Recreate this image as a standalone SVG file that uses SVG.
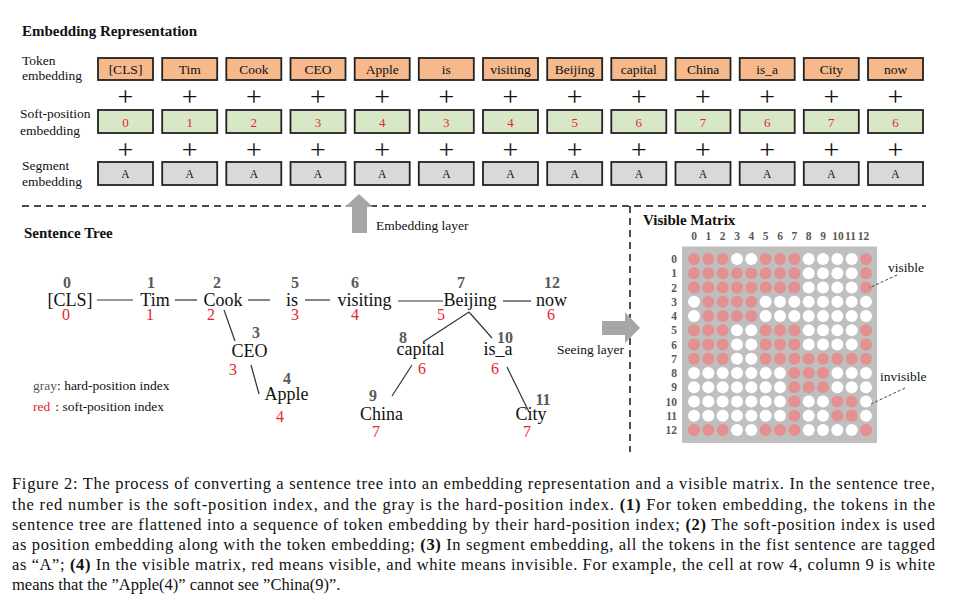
<svg xmlns="http://www.w3.org/2000/svg" width="963" height="604" viewBox="0 0 963 604">
<style>
text{font-family:"Liberation Serif","Times New Roman",serif;fill:#111}
.title{font-size:15px;font-weight:bold}
.lbl{font-size:13.5px}
.tok rect{fill:#F5B98C;stroke:#222;stroke-width:1.8}
.sp rect{fill:#D8E8C6;stroke:#222;stroke-width:1.8}
.seg rect{fill:#D9D9D9;stroke:#222;stroke-width:1.8}
.tt{font-size:13.5px;text-anchor:middle}
.st{font-size:13px;text-anchor:middle;fill:#E3262B}
.sg{font-size:11.5px;text-anchor:middle}
.plus{font-size:28px;text-anchor:middle}
.dash{stroke:#111;stroke-width:1.5;stroke-dasharray:7 5;fill:none}
.gi{font-size:16px;font-weight:bold;fill:#595959;text-anchor:middle}
.w{font-size:18px;text-anchor:middle}
.ri{font-size:16px;fill:#E3262B;text-anchor:middle}
.edge{stroke:#333;stroke-width:1.2;fill:none}
.arrow{fill:#A6A6A6}
.r{fill:#E59090}
.wc{fill:#FFFFFF}
.mi{font-size:11.5px;font-weight:bold;fill:#595959;text-anchor:middle}
.mr{font-size:11.5px;font-weight:bold;fill:#595959;text-anchor:end}
.cap{font-size:16.5px}
.lead{stroke:#444;stroke-width:1;stroke-dasharray:3 2;fill:none}
</style>

<text class="title" x="22" y="36">Embedding Representation</text>
<g id="row-labels">
<text class="lbl" x="22" y="65">Token</text>
<text class="lbl" x="22" y="80">embedding</text>
<text class="lbl" x="20" y="118">Soft-position</text>
<text class="lbl" x="20" y="135">embedding</text>
<text class="lbl" x="22" y="170">Segment</text>
<text class="lbl" x="22" y="186">embedding</text>
</g>

<g id="token-embedding" class="tok">
<g id="tok0"><rect x="98" y="58" width="55" height="22"/><text class="tt" x="125.5" y="74">[CLS]</text></g>
<g id="tok1"><rect x="162.2" y="58" width="55" height="22"/><text class="tt" x="189.7" y="74">Tim</text></g>
<g id="tok2"><rect x="226.3" y="58" width="55" height="22"/><text class="tt" x="253.8" y="74">Cook</text></g>
<g id="tok3"><rect x="290.5" y="58" width="55" height="22"/><text class="tt" x="318" y="74">CEO</text></g>
<g id="tok4"><rect x="354.7" y="58" width="55" height="22"/><text class="tt" x="382.2" y="74">Apple</text></g>
<g id="tok5"><rect x="418.8" y="58" width="55" height="22"/><text class="tt" x="446.3" y="74">is</text></g>
<g id="tok6"><rect x="483" y="58" width="55" height="22"/><text class="tt" x="510.5" y="74">visiting</text></g>
<g id="tok7"><rect x="547.2" y="58" width="55" height="22"/><text class="tt" x="574.7" y="74">Beijing</text></g>
<g id="tok8"><rect x="611.3" y="58" width="55" height="22"/><text class="tt" x="638.8" y="74">capital</text></g>
<g id="tok9"><rect x="675.5" y="58" width="55" height="22"/><text class="tt" x="703" y="74">China</text></g>
<g id="tok10"><rect x="739.7" y="58" width="55" height="22"/><text class="tt" x="767.2" y="74">is_a</text></g>
<g id="tok11"><rect x="803.8" y="58" width="55" height="22"/><text class="tt" x="831.3" y="74">City</text></g>
<g id="tok12"><rect x="868" y="58" width="55" height="22"/><text class="tt" x="895.5" y="74">now</text></g>
</g>

<g id="soft-position-embedding" class="sp">
<g id="sp0"><rect x="98" y="110" width="55" height="23"/><text class="st" x="125.5" y="126.5">0</text></g>
<g id="sp1"><rect x="162.2" y="110" width="55" height="23"/><text class="st" x="189.7" y="126.5">1</text></g>
<g id="sp2"><rect x="226.3" y="110" width="55" height="23"/><text class="st" x="253.8" y="126.5">2</text></g>
<g id="sp3"><rect x="290.5" y="110" width="55" height="23"/><text class="st" x="318" y="126.5">3</text></g>
<g id="sp4"><rect x="354.7" y="110" width="55" height="23"/><text class="st" x="382.2" y="126.5">4</text></g>
<g id="sp5"><rect x="418.8" y="110" width="55" height="23"/><text class="st" x="446.3" y="126.5">3</text></g>
<g id="sp6"><rect x="483" y="110" width="55" height="23"/><text class="st" x="510.5" y="126.5">4</text></g>
<g id="sp7"><rect x="547.2" y="110" width="55" height="23"/><text class="st" x="574.7" y="126.5">5</text></g>
<g id="sp8"><rect x="611.3" y="110" width="55" height="23"/><text class="st" x="638.8" y="126.5">6</text></g>
<g id="sp9"><rect x="675.5" y="110" width="55" height="23"/><text class="st" x="703" y="126.5">7</text></g>
<g id="sp10"><rect x="739.7" y="110" width="55" height="23"/><text class="st" x="767.2" y="126.5">6</text></g>
<g id="sp11"><rect x="803.8" y="110" width="55" height="23"/><text class="st" x="831.3" y="126.5">7</text></g>
<g id="sp12"><rect x="868" y="110" width="55" height="23"/><text class="st" x="895.5" y="126.5">6</text></g>
</g>

<g id="segment-embedding" class="seg">
<g id="seg0"><rect x="98" y="162" width="55" height="23"/><text class="sg" x="125.5" y="178">A</text></g>
<g id="seg1"><rect x="162.2" y="162" width="55" height="23"/><text class="sg" x="189.7" y="178">A</text></g>
<g id="seg2"><rect x="226.3" y="162" width="55" height="23"/><text class="sg" x="253.8" y="178">A</text></g>
<g id="seg3"><rect x="290.5" y="162" width="55" height="23"/><text class="sg" x="318" y="178">A</text></g>
<g id="seg4"><rect x="354.7" y="162" width="55" height="23"/><text class="sg" x="382.2" y="178">A</text></g>
<g id="seg5"><rect x="418.8" y="162" width="55" height="23"/><text class="sg" x="446.3" y="178">A</text></g>
<g id="seg6"><rect x="483" y="162" width="55" height="23"/><text class="sg" x="510.5" y="178">A</text></g>
<g id="seg7"><rect x="547.2" y="162" width="55" height="23"/><text class="sg" x="574.7" y="178">A</text></g>
<g id="seg8"><rect x="611.3" y="162" width="55" height="23"/><text class="sg" x="638.8" y="178">A</text></g>
<g id="seg9"><rect x="675.5" y="162" width="55" height="23"/><text class="sg" x="703" y="178">A</text></g>
<g id="seg10"><rect x="739.7" y="162" width="55" height="23"/><text class="sg" x="767.2" y="178">A</text></g>
<g id="seg11"><rect x="803.8" y="162" width="55" height="23"/><text class="sg" x="831.3" y="178">A</text></g>
<g id="seg12"><rect x="868" y="162" width="55" height="23"/><text class="sg" x="895.5" y="178">A</text></g>
</g>

<g id="plus-signs">
<text class="plus" x="125.5" y="106">+</text><text class="plus" x="189.7" y="106">+</text><text class="plus" x="253.8" y="106">+</text><text class="plus" x="318" y="106">+</text><text class="plus" x="382.2" y="106">+</text><text class="plus" x="446.3" y="106">+</text><text class="plus" x="510.5" y="106">+</text><text class="plus" x="574.7" y="106">+</text><text class="plus" x="638.8" y="106">+</text><text class="plus" x="703" y="106">+</text><text class="plus" x="767.2" y="106">+</text><text class="plus" x="831.3" y="106">+</text><text class="plus" x="895.5" y="106">+</text>
<text class="plus" x="125.5" y="159">+</text><text class="plus" x="189.7" y="159">+</text><text class="plus" x="253.8" y="159">+</text><text class="plus" x="318" y="159">+</text><text class="plus" x="382.2" y="159">+</text><text class="plus" x="446.3" y="159">+</text><text class="plus" x="510.5" y="159">+</text><text class="plus" x="574.7" y="159">+</text><text class="plus" x="638.8" y="159">+</text><text class="plus" x="703" y="159">+</text><text class="plus" x="767.2" y="159">+</text><text class="plus" x="831.3" y="159">+</text><text class="plus" x="895.5" y="159">+</text>
</g>

<g id="separators">
<line class="dash" x1="22" y1="206" x2="926" y2="206"/>
<line class="dash" x1="630" y1="206" x2="630" y2="452"/>
</g>

<g id="embedding-layer">
<polygon class="arrow" points="359,194 373,207 367,207 367,233 352,233 352,207 345,207"/>
<text class="lbl" x="376" y="230">Embedding layer</text>
</g>

<g id="seeing-layer">
<polygon class="arrow" points="602,321 625,321 625,312 640,328 625,343 625,335 602,335"/>
<text class="lbl" x="557" y="354">Seeing layer</text>
</g>

<text class="title" x="24" y="238">Sentence Tree</text>

<g id="connectors">
<line class="edge" x1="97" y1="300" x2="133" y2="300"/>
<line class="edge" x1="175" y1="300" x2="197" y2="300"/>
<line class="edge" x1="248" y1="300" x2="270" y2="300"/>
<line class="edge" x1="305" y1="300" x2="330" y2="300"/>
<line class="edge" x1="398" y1="301" x2="443" y2="301"/>
<line class="edge" x1="503" y1="301" x2="531" y2="301"/>
<line class="edge" x1="224" y1="310" x2="235" y2="341"/>
<line class="edge" x1="251" y1="365" x2="259" y2="394"/>
<line class="edge" x1="469" y1="312" x2="423" y2="342"/>
<line class="edge" x1="469" y1="312" x2="492" y2="338"/>
<line class="edge" x1="412" y1="365" x2="392" y2="396"/>
<line class="edge" x1="507" y1="367" x2="529" y2="412"/>
</g>

<g id="n0"><text class="gi" x="67" y="288">0</text><text class="w" x="70" y="306">[CLS]</text><text class="ri" x="66" y="320">0</text></g>
<g id="n1"><text class="gi" x="151" y="288">1</text><text class="w" x="155" y="306">Tim</text><text class="ri" x="150" y="320">1</text></g>
<g id="n2"><text class="gi" x="217" y="288">2</text><text class="w" x="223" y="306">Cook</text><text class="ri" x="211" y="320">2</text></g>
<g id="n5"><text class="gi" x="295" y="288">5</text><text class="w" x="292" y="306">is</text><text class="ri" x="295" y="320">3</text></g>
<g id="n6"><text class="gi" x="355" y="288">6</text><text class="w" x="364.5" y="306">visiting</text><text class="ri" x="355" y="320">4</text></g>
<g id="n7"><text class="gi" x="461" y="288">7</text><text class="w" x="470" y="306">Beijing</text><text class="ri" x="441" y="320">5</text></g>
<g id="n12"><text class="gi" x="552" y="288">12</text><text class="w" x="551.5" y="306">now</text><text class="ri" x="551" y="320">6</text></g>
<g id="n3"><text class="gi" x="256" y="338">3</text><text class="w" x="249.5" y="357">CEO</text><text class="ri" x="233" y="375">3</text></g>
<g id="n4"><text class="gi" x="287" y="384">4</text><text class="w" x="286.5" y="400">Apple</text><text class="ri" x="280" y="422">4</text></g>
<g id="n8"><text class="gi" x="403" y="343">8</text><text class="w" x="420.5" y="355">capital</text><text class="ri" x="422" y="374">6</text></g>
<g id="n10"><text class="gi" x="505" y="343">10</text><text class="w" x="498" y="355">is_a</text><text class="ri" x="495" y="374">6</text></g>
<g id="n9"><text class="gi" x="373" y="401">9</text><text class="w" x="381.5" y="420">China</text><text class="ri" x="376" y="437">7</text></g>
<g id="n11"><text class="gi" x="543" y="405">11</text><text class="w" x="531" y="420">City</text><text class="ri" x="527" y="437">7</text></g>

<g id="legend">
<text class="lbl" x="33" y="390"><tspan fill="#595959">gray</tspan>: hard-position index</text>
<text class="lbl" x="33" y="411"><tspan fill="#E3262B">red</tspan><tspan dx="5">: soft-position index</tspan></text>
</g>

<g id="visible-matrix">
<text class="title" x="643" y="225">Visible Matrix</text>
<g id="col-index">
<text class="mi" x="694" y="240">0</text><text class="mi" x="708.3" y="240">1</text><text class="mi" x="722.7" y="240">2</text><text class="mi" x="737" y="240">3</text><text class="mi" x="751.3" y="240">4</text><text class="mi" x="765.7" y="240">5</text><text class="mi" x="780" y="240">6</text><text class="mi" x="794.3" y="240">7</text><text class="mi" x="808.7" y="240">8</text><text class="mi" x="823" y="240">9</text><text class="mi" x="838" y="240">10</text><text class="mi" x="850.5" y="240">11</text><text class="mi" x="863.5" y="240">12</text>
</g>
<g id="row-index">
<text class="mr" x="677" y="263">0</text><text class="mr" x="677" y="277.3">1</text><text class="mr" x="677" y="291.5">2</text><text class="mr" x="677" y="305.8">3</text><text class="mr" x="677" y="320">4</text><text class="mr" x="677" y="334.3">5</text><text class="mr" x="677" y="348.5">6</text><text class="mr" x="677" y="362.8">7</text><text class="mr" x="677" y="377">8</text><text class="mr" x="677" y="391.3">9</text><text class="mr" x="677" y="405.5">10</text><text class="mr" x="677" y="419.8">11</text><text class="mr" x="677" y="434">12</text>
</g>
<rect x="682" y="246.5" width="195" height="196.5" fill="#BFBFBF"/>
<g id="cells" transform="translate(694,259)">
<circle class="r" cx="0" cy="0" r="6"/><circle class="r" cx="14.33" cy="0" r="6"/><circle class="r" cx="28.67" cy="0" r="6"/><circle class="wc" cx="43" cy="0" r="6"/><circle class="wc" cx="57.33" cy="0" r="6"/><circle class="r" cx="71.67" cy="0" r="6"/><circle class="r" cx="86" cy="0" r="6"/><circle class="r" cx="100.33" cy="0" r="6"/><circle class="wc" cx="114.67" cy="0" r="6"/><circle class="wc" cx="129" cy="0" r="6"/><circle class="wc" cx="143.33" cy="0" r="6"/><circle class="wc" cx="157.67" cy="0" r="6"/><circle class="r" cx="172" cy="0" r="6"/>
<circle class="r" cx="0" cy="14.25" r="6"/><circle class="r" cx="14.33" cy="14.25" r="6"/><circle class="r" cx="28.67" cy="14.25" r="6"/><circle class="r" cx="43" cy="14.25" r="6"/><circle class="r" cx="57.33" cy="14.25" r="6"/><circle class="r" cx="71.67" cy="14.25" r="6"/><circle class="r" cx="86" cy="14.25" r="6"/><circle class="r" cx="100.33" cy="14.25" r="6"/><circle class="wc" cx="114.67" cy="14.25" r="6"/><circle class="wc" cx="129" cy="14.25" r="6"/><circle class="wc" cx="143.33" cy="14.25" r="6"/><circle class="wc" cx="157.67" cy="14.25" r="6"/><circle class="r" cx="172" cy="14.25" r="6"/>
<circle class="r" cx="0" cy="28.5" r="6"/><circle class="r" cx="14.33" cy="28.5" r="6"/><circle class="r" cx="28.67" cy="28.5" r="6"/><circle class="r" cx="43" cy="28.5" r="6"/><circle class="r" cx="57.33" cy="28.5" r="6"/><circle class="r" cx="71.67" cy="28.5" r="6"/><circle class="r" cx="86" cy="28.5" r="6"/><circle class="r" cx="100.33" cy="28.5" r="6"/><circle class="wc" cx="114.67" cy="28.5" r="6"/><circle class="wc" cx="129" cy="28.5" r="6"/><circle class="wc" cx="143.33" cy="28.5" r="6"/><circle class="wc" cx="157.67" cy="28.5" r="6"/><circle class="r" cx="172" cy="28.5" r="6"/>
<circle class="wc" cx="0" cy="42.75" r="6"/><circle class="r" cx="14.33" cy="42.75" r="6"/><circle class="r" cx="28.67" cy="42.75" r="6"/><circle class="r" cx="43" cy="42.75" r="6"/><circle class="r" cx="57.33" cy="42.75" r="6"/><circle class="wc" cx="71.67" cy="42.75" r="6"/><circle class="wc" cx="86" cy="42.75" r="6"/><circle class="wc" cx="100.33" cy="42.75" r="6"/><circle class="wc" cx="114.67" cy="42.75" r="6"/><circle class="wc" cx="129" cy="42.75" r="6"/><circle class="wc" cx="143.33" cy="42.75" r="6"/><circle class="wc" cx="157.67" cy="42.75" r="6"/><circle class="wc" cx="172" cy="42.75" r="6"/>
<circle class="wc" cx="0" cy="57" r="6"/><circle class="r" cx="14.33" cy="57" r="6"/><circle class="r" cx="28.67" cy="57" r="6"/><circle class="r" cx="43" cy="57" r="6"/><circle class="r" cx="57.33" cy="57" r="6"/><circle class="wc" cx="71.67" cy="57" r="6"/><circle class="wc" cx="86" cy="57" r="6"/><circle class="wc" cx="100.33" cy="57" r="6"/><circle class="wc" cx="114.67" cy="57" r="6"/><circle class="wc" cx="129" cy="57" r="6"/><circle class="wc" cx="143.33" cy="57" r="6"/><circle class="wc" cx="157.67" cy="57" r="6"/><circle class="wc" cx="172" cy="57" r="6"/>
<circle class="r" cx="0" cy="71.25" r="6"/><circle class="r" cx="14.33" cy="71.25" r="6"/><circle class="r" cx="28.67" cy="71.25" r="6"/><circle class="wc" cx="43" cy="71.25" r="6"/><circle class="wc" cx="57.33" cy="71.25" r="6"/><circle class="r" cx="71.67" cy="71.25" r="6"/><circle class="r" cx="86" cy="71.25" r="6"/><circle class="r" cx="100.33" cy="71.25" r="6"/><circle class="wc" cx="114.67" cy="71.25" r="6"/><circle class="wc" cx="129" cy="71.25" r="6"/><circle class="wc" cx="143.33" cy="71.25" r="6"/><circle class="wc" cx="157.67" cy="71.25" r="6"/><circle class="r" cx="172" cy="71.25" r="6"/>
<circle class="r" cx="0" cy="85.5" r="6"/><circle class="r" cx="14.33" cy="85.5" r="6"/><circle class="r" cx="28.67" cy="85.5" r="6"/><circle class="wc" cx="43" cy="85.5" r="6"/><circle class="wc" cx="57.33" cy="85.5" r="6"/><circle class="r" cx="71.67" cy="85.5" r="6"/><circle class="r" cx="86" cy="85.5" r="6"/><circle class="r" cx="100.33" cy="85.5" r="6"/><circle class="wc" cx="114.67" cy="85.5" r="6"/><circle class="wc" cx="129" cy="85.5" r="6"/><circle class="wc" cx="143.33" cy="85.5" r="6"/><circle class="wc" cx="157.67" cy="85.5" r="6"/><circle class="r" cx="172" cy="85.5" r="6"/>
<circle class="r" cx="0" cy="99.75" r="6"/><circle class="r" cx="14.33" cy="99.75" r="6"/><circle class="r" cx="28.67" cy="99.75" r="6"/><circle class="wc" cx="43" cy="99.75" r="6"/><circle class="wc" cx="57.33" cy="99.75" r="6"/><circle class="r" cx="71.67" cy="99.75" r="6"/><circle class="r" cx="86" cy="99.75" r="6"/><circle class="r" cx="100.33" cy="99.75" r="6"/><circle class="r" cx="114.67" cy="99.75" r="6"/><circle class="r" cx="129" cy="99.75" r="6"/><circle class="r" cx="143.33" cy="99.75" r="6"/><circle class="r" cx="157.67" cy="99.75" r="6"/><circle class="r" cx="172" cy="99.75" r="6"/>
<circle class="wc" cx="0" cy="114" r="6"/><circle class="wc" cx="14.33" cy="114" r="6"/><circle class="wc" cx="28.67" cy="114" r="6"/><circle class="wc" cx="43" cy="114" r="6"/><circle class="wc" cx="57.33" cy="114" r="6"/><circle class="wc" cx="71.67" cy="114" r="6"/><circle class="wc" cx="86" cy="114" r="6"/><circle class="r" cx="100.33" cy="114" r="6"/><circle class="r" cx="114.67" cy="114" r="6"/><circle class="r" cx="129" cy="114" r="6"/><circle class="wc" cx="143.33" cy="114" r="6"/><circle class="wc" cx="157.67" cy="114" r="6"/><circle class="wc" cx="172" cy="114" r="6"/>
<circle class="wc" cx="0" cy="128.25" r="6"/><circle class="wc" cx="14.33" cy="128.25" r="6"/><circle class="wc" cx="28.67" cy="128.25" r="6"/><circle class="wc" cx="43" cy="128.25" r="6"/><circle class="wc" cx="57.33" cy="128.25" r="6"/><circle class="wc" cx="71.67" cy="128.25" r="6"/><circle class="wc" cx="86" cy="128.25" r="6"/><circle class="r" cx="100.33" cy="128.25" r="6"/><circle class="r" cx="114.67" cy="128.25" r="6"/><circle class="r" cx="129" cy="128.25" r="6"/><circle class="wc" cx="143.33" cy="128.25" r="6"/><circle class="wc" cx="157.67" cy="128.25" r="6"/><circle class="wc" cx="172" cy="128.25" r="6"/>
<circle class="wc" cx="0" cy="142.5" r="6"/><circle class="wc" cx="14.33" cy="142.5" r="6"/><circle class="wc" cx="28.67" cy="142.5" r="6"/><circle class="wc" cx="43" cy="142.5" r="6"/><circle class="wc" cx="57.33" cy="142.5" r="6"/><circle class="wc" cx="71.67" cy="142.5" r="6"/><circle class="wc" cx="86" cy="142.5" r="6"/><circle class="r" cx="100.33" cy="142.5" r="6"/><circle class="wc" cx="114.67" cy="142.5" r="6"/><circle class="wc" cx="129" cy="142.5" r="6"/><circle class="r" cx="143.33" cy="142.5" r="6"/><circle class="r" cx="157.67" cy="142.5" r="6"/><circle class="wc" cx="172" cy="142.5" r="6"/>
<circle class="wc" cx="0" cy="156.75" r="6"/><circle class="wc" cx="14.33" cy="156.75" r="6"/><circle class="wc" cx="28.67" cy="156.75" r="6"/><circle class="wc" cx="43" cy="156.75" r="6"/><circle class="wc" cx="57.33" cy="156.75" r="6"/><circle class="wc" cx="71.67" cy="156.75" r="6"/><circle class="wc" cx="86" cy="156.75" r="6"/><circle class="r" cx="100.33" cy="156.75" r="6"/><circle class="wc" cx="114.67" cy="156.75" r="6"/><circle class="wc" cx="129" cy="156.75" r="6"/><circle class="r" cx="143.33" cy="156.75" r="6"/><circle class="r" cx="157.67" cy="156.75" r="6"/><circle class="wc" cx="172" cy="156.75" r="6"/>
<circle class="r" cx="0" cy="171" r="6"/><circle class="r" cx="14.33" cy="171" r="6"/><circle class="r" cx="28.67" cy="171" r="6"/><circle class="wc" cx="43" cy="171" r="6"/><circle class="wc" cx="57.33" cy="171" r="6"/><circle class="r" cx="71.67" cy="171" r="6"/><circle class="r" cx="86" cy="171" r="6"/><circle class="r" cx="100.33" cy="171" r="6"/><circle class="wc" cx="114.67" cy="171" r="6"/><circle class="wc" cx="129" cy="171" r="6"/><circle class="wc" cx="143.33" cy="171" r="6"/><circle class="wc" cx="157.67" cy="171" r="6"/><circle class="r" cx="172" cy="171" r="6"/>
</g>
<g id="matrix-legend">
<line class="lead" x1="897" y1="275" x2="869" y2="288"/>
<text class="lbl" x="888" y="272">visible</text>
<line class="lead" x1="905" y1="388" x2="871" y2="404"/>
<text class="lbl" x="880" y="381">invisible</text>
</g>
</g>

<g id="caption">
<text class="cap" x="12" y="489" textLength="923" lengthAdjust="spacing">Figure 2: The process of converting a sentence tree into an embedding representation and a visible matrix. In the sentence tree,</text>
<text class="cap" x="12" y="510" textLength="923" lengthAdjust="spacing">the red number is the soft-position index, and the gray is the hard-position index. <tspan font-weight="bold">(1)</tspan> For token embedding, the tokens in the</text>
<text class="cap" x="12" y="530" textLength="923" lengthAdjust="spacing">sentence tree are flattened into a sequence of token embedding by their hard-position index; <tspan font-weight="bold">(2)</tspan> The soft-position index is used</text>
<text class="cap" x="12" y="550" textLength="923" lengthAdjust="spacing">as position embedding along with the token embedding; <tspan font-weight="bold">(3)</tspan> In segment embedding, all the tokens in the fist sentence are tagged</text>
<text class="cap" x="12" y="570" textLength="923" lengthAdjust="spacing">as “A”; <tspan font-weight="bold">(4)</tspan> In the visible matrix, red means visible, and white means invisible. For example, the cell at row 4, column 9 is white</text>
<text class="cap" x="12" y="590">means that the ”Apple(4)” cannot see ”China(9)”.</text>
</g>
</svg>
